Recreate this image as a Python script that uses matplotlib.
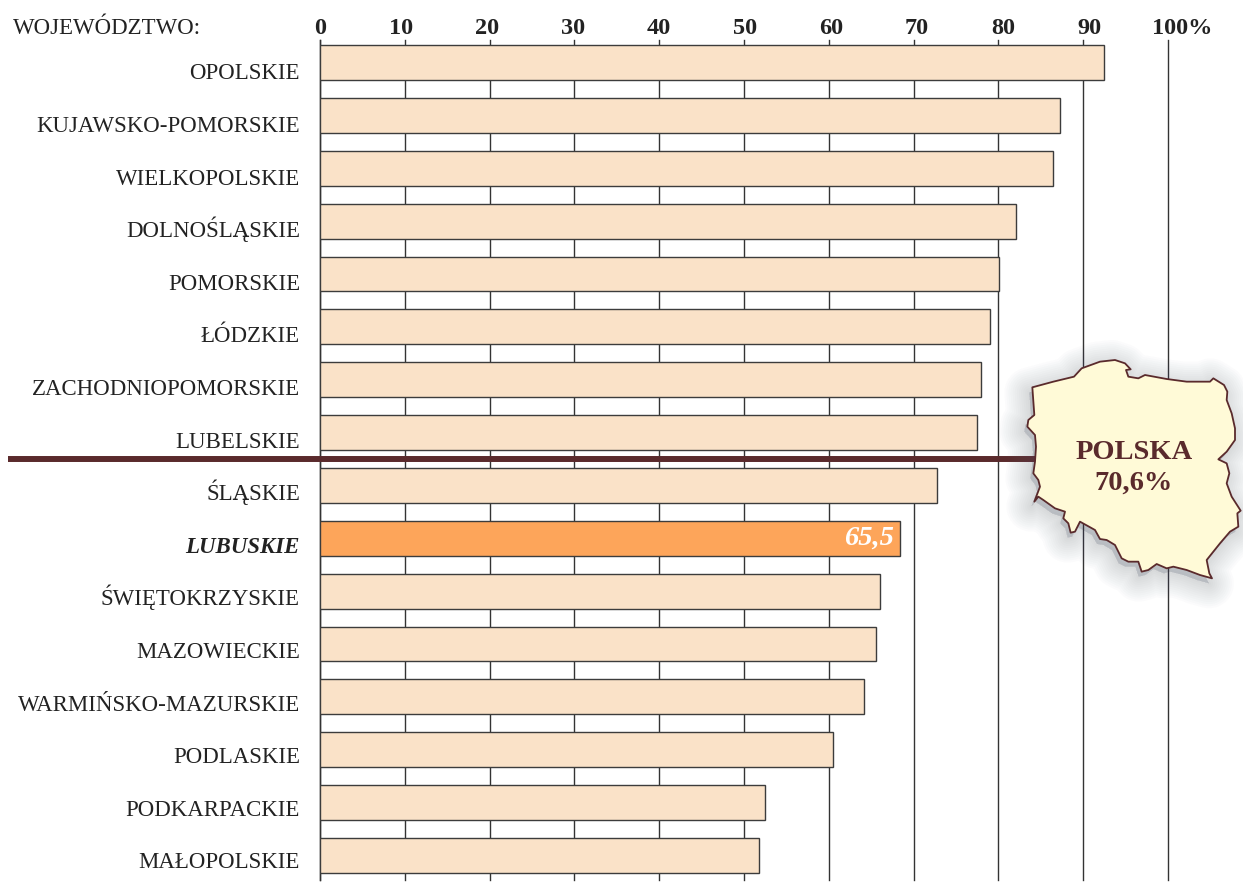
import matplotlib.pyplot as plt
from matplotlib.patches import Polygon

plt.rcParams['font.family'] = ['Liberation Serif', 'DejaVu Serif']

# dane z wykresu
wojewodztwa = ['OPOLSKIE', 'KUJAWSKO-POMORSKIE', 'WIELKOPOLSKIE', 'DOLNOŚLĄSKIE', 'POMORSKIE',
               'ŁÓDZKIE', 'ZACHODNIOPOMORSKIE', 'LUBELSKIE', 'ŚLĄSKIE', 'LUBUSKIE',
               'ŚWIĘTOKRZYSKIE', 'MAZOWIECKIE', 'WARMIŃSKO-MAZURSKIE', 'PODLASKIE',
               'PODKARPACKIE', 'MAŁOPOLSKIE']
wartosci = [92.4, 87.3, 86.4, 82.1, 80.1, 79.0, 78.0, 77.5, 72.8, 68.4, 66.0, 65.6, 64.2, 60.5, 52.5, 51.8]
ticks = [0, 10, 20, 30, 40, 50, 60, 70, 80, 90, 100]
tick_labels = ['0', '10', '20', '30', '40', '50', '60', '70', '80', '90', '100%']
highlight = 'LUBUSKIE'
highlight_label = '65,5'
map_label = 'POLSKA\n70,6%'

# przesuniecie opisow osi wzgledem linii siatki (piksele)
tick_nudge = [0.5, -4, -2.6, -1.4, 0, 1, 2.2, 3.4, 4.6, 5.8, 14]

# kontur mapy w pikselach powiekszenia x3, punkt odniesienia (1000, 340)
kontur = [(97, 142), (160, 125), (222, 110), (245, 85), (300, 65), (345, 60), (375, 70), (392, 88),
          (378, 90), (385, 110), (415, 115), (435, 105), (500, 117), (560, 125), (630, 125), (640, 115),
          (672, 135), (682, 155), (680, 180), (695, 220), (705, 265), (705, 300), (680, 335), (655, 358),
          (680, 370), (688, 400), (680, 430), (695, 470), (722, 512), (712, 520), (715, 560), (690, 575),
          (660, 610), (620, 660), (628, 700), (636, 715), (600, 705), (560, 690), (520, 680), (500, 685),
          (470, 672), (445, 690), (425, 695), (415, 665), (385, 665), (365, 655), (345, 615), (320, 600),
          (300, 597), (285, 570), (240, 545), (225, 575), (212, 578), (205, 550), (190, 535), (195, 515),
          (165, 505), (130, 480), (115, 470), (103, 485), (120, 440), (115, 420), (100, 400), (105, 365),
          (108, 320), (105, 285), (82, 260), (85, 240), (103, 225)]

W, H = 1243, 882
BROWN = '#5a2a2c'


def fig_xy(px, py):
    return px / W, 1 - py / H


fig = plt.figure(figsize=(W / 100, H / 100), dpi=100)
ax = fig.add_axes([320 / W, 1 - 880 / H, 848 / W, 840 / H])

y = list(range(len(wojewodztwa)))
colors = ['#fda55a' if w == highlight else '#fae2c8' for w in wojewodztwa]
ax.barh(y, wartosci, height=0.66, color=colors, edgecolor='#3c3c3c', linewidth=1.0, zorder=3)

ax.set_xlim(0, 100)
ax.set_ylim(15.463, -0.425)
ax.set_xticks(ticks)
ax.set_xticklabels([])
ax.set_yticks([])
ax.tick_params(length=0)
ax.grid(axis='x', color='#333333', linewidth=1.0, zorder=1)
for line in ax.get_xgridlines():
    line.set_clip_on(False)
for s in ['top', 'right', 'bottom']:
    ax.spines[s].set_visible(False)
ax.spines['left'].set_color('#333333')
ax.spines['left'].set_linewidth(1.0)

# opisy wojewodztw - odstep opisow jest troche mniejszy niz odstep slupkow
for i, w in enumerate(wojewodztwa):
    hl = w == highlight
    ax.annotate(w, (0, i), xytext=(-20, -(17 - 0.27 * i)), textcoords='offset pixels', ha='right',
                va='baseline', fontsize=16.45, color='#222222', fontweight='bold' if hl else 'normal',
                fontstyle='italic' if hl else 'normal')

# opisy osi u gory
for t, lab, n in zip(ticks, tick_labels, tick_nudge):
    ax.annotate(lab, (t, -0.425), xytext=(n, 12), textcoords='offset pixels', ha='center', va='center',
                fontsize=17.5, fontweight='bold', color='#222222')

fig.text(13 / W, 1 - 34 / H, 'WOJEWÓDZTWO:', fontsize=16.45, color='#222222', ha='left', va='baseline')

idx = wojewodztwa.index(highlight)
ax.annotate(highlight_label, (wartosci[idx], idx), xytext=(-6, 0), textcoords='offset pixels', ha='right',
            va='center', color='white', fontsize=20.5, fontweight='bold', fontstyle='italic', zorder=5)

# gruba linia - srednia dla Polski
x0, y0 = fig_xy(8, 459)
x1, y1 = fig_xy(1036, 459)
ax.plot([x0, x1], [y0, y1], transform=fig.transFigure, clip_on=False, color=BROWN, linewidth=4.3,
        solid_capstyle='butt', zorder=6)

# mapa z rozmytym cieniem
pts = [fig_xy(1000 + a / 3, 340 + b / 3) for a, b in kontur]
cien = [fig_xy(1000 + a / 3 - 3, 340 + b / 3 + 5) for a, b in kontur]
for lw in range(36, 0, -3):
    ax.add_patch(Polygon(cien, closed=True, transform=fig.transFigure, clip_on=False, facecolor='#5c6470',
                         edgecolor='#5c6470', alpha=0.02, linewidth=lw, joinstyle='round', zorder=7))
ax.add_patch(Polygon(pts, closed=True, transform=fig.transFigure, clip_on=False, facecolor='#fffad7',
                     edgecolor=BROWN, linewidth=1.3, joinstyle='round', zorder=8))
mx, my = fig_xy(1134, 468)
ax.text(mx, my, map_label, transform=fig.transFigure, ha='center', va='center', fontsize=20.5,
        fontweight='bold', color=BROWN, linespacing=1.32, zorder=9)

fig.savefig('out.png', dpi=100, facecolor='white')
